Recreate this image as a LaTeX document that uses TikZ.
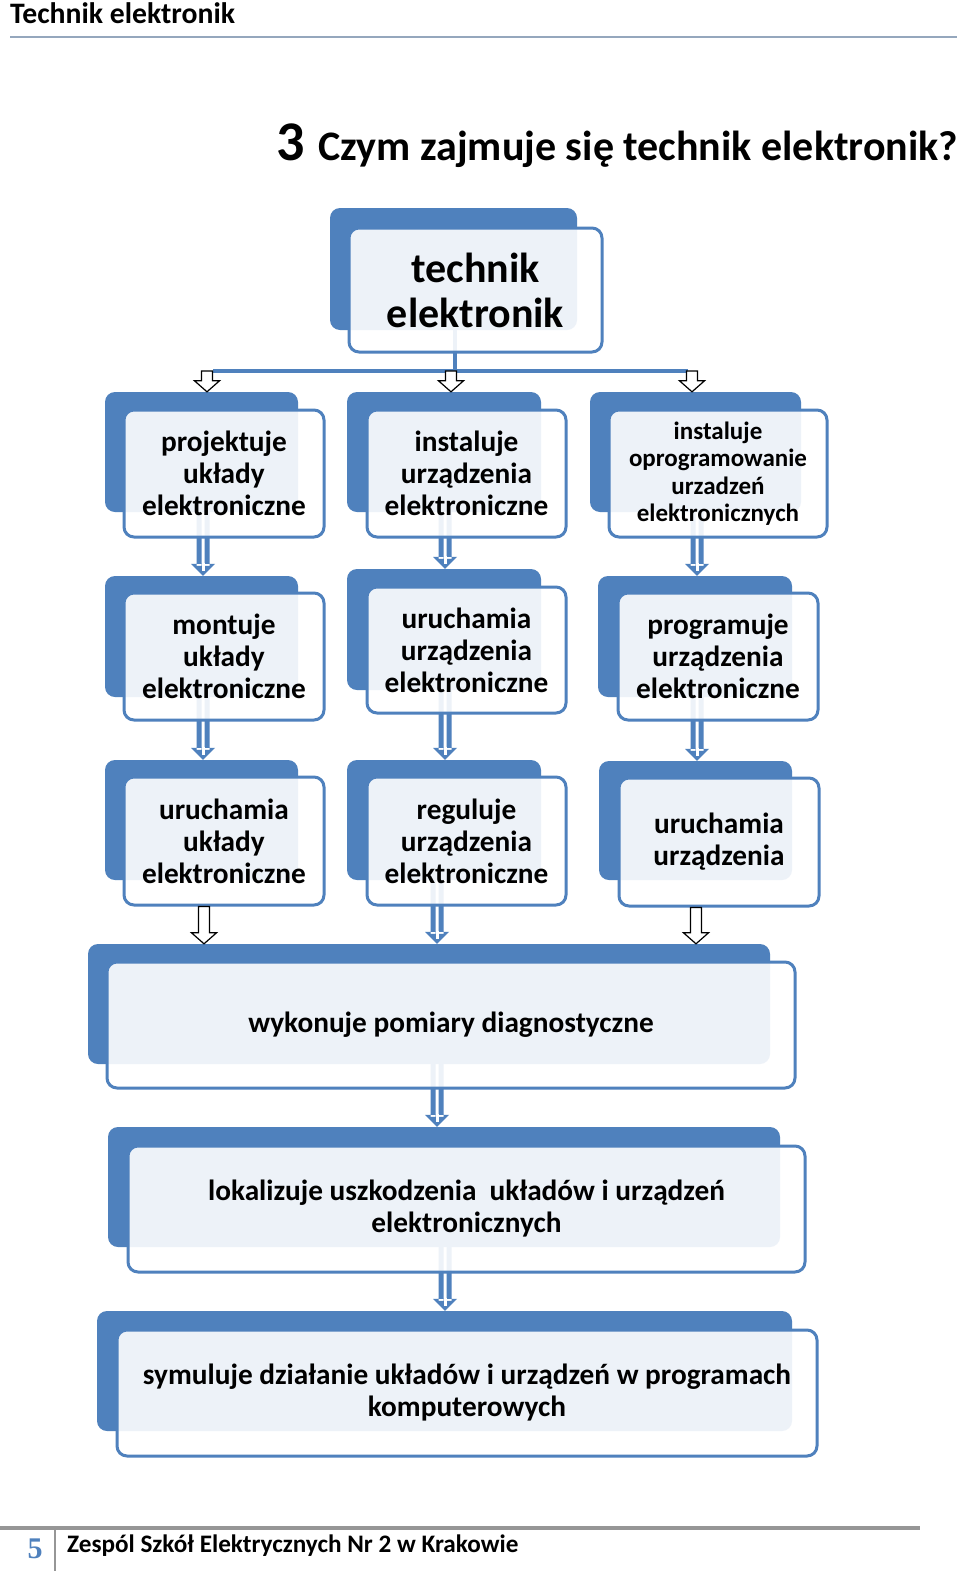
\documentclass[tikz,border=0pt]{standalone}
\usepackage{fontspec}
\setmainfont{Carlito}
\setsansfont{Carlito}
\newfontfamily\numfont{Liberation Serif}
\usetikzlibrary{calc}
\definecolor{ofblue}{RGB}{79,129,189}
\definecolor{hdrline}{RGB}{149,167,189}
\definecolor{ftgray}{RGB}{150,150,150}
\newcommand\harrow[2]{%
  \path[draw=black, fill=white, line width=1.2pt, line join=miter]
    let \p1=(#1), \p2=(#2) in
    (\x1-5.5pt,\y1) -- (\x1+5.5pt,\y1) -- (\x1+5.5pt,\y2+11pt) -- (\x1+12.5pt,\y2+11pt)
    -- (\x1,\y2) -- (\x1-12.5pt,\y2+11pt) -- (\x1-5.5pt,\y2+11pt) -- cycle;}
\newcommand\barrow[2]{%
  \path[fill=ofblue] let \p1=(#1), \p2=(#2) in
    (\x1-6.5pt,\y1) rectangle (\x1-1.5pt,\y2+10pt)
    (\x1+1.5pt,\y1) rectangle (\x1+6.5pt,\y2+10pt)
    (\x1-12pt,\y2+12pt) -- (\x1+12pt,\y2+12pt) -- (\x1,\y2) -- cycle;
  \path[draw=white, line width=3pt] let \p1=(#1), \p2=(#2) in
    (\x1,\y2+13pt) -- (\x1,\y2+5pt);}
\tikzset{
  backbox/.style={fill=ofblue, rounded corners=10pt, inner sep=0pt},
  frontbox/.style={draw=ofblue, line width=3pt, fill=white, fill opacity=0.9,
    text opacity=1, rounded corners=10pt, inner sep=0pt, align=center,
    font=\bfseries\fontsize{29.3}{32}\selectfont},
  smalltext/.style={font=\bfseries\fontsize{25}{27.5}\selectfont},
  bigtext/.style={font=\bfseries\fontsize{42}{45}\selectfont},
  connline/.style={draw=ofblue, line width=4pt},
}
\begin{document}
\begin{tikzpicture}[x=1pt,y=-1pt]
\useasboundingbox (0,0) rectangle (960,1571);
\fill[white] (0,0) rectangle (960,1571);
% header
\node[anchor=west, font=\bfseries\fontsize{29.7}{30}\selectfont, inner sep=0pt] (hdr) at (10,13) {Technik elektronik};
\draw[hdrline, line width=1.5pt] (10,37) -- (957,37);
% title
\node[anchor=base west, inner sep=0pt, font=\bfseries\fontsize{56}{56}\selectfont] (ttlnum) at (276,160) {3};
\node[anchor=base west, inner sep=0pt, font=\bfseries\fontsize{42}{44}\selectfont] (ttl) at (318,160) {Czym zajmuje się technik elektronik?};
% back boxes
\node[backbox, minimum width=247pt, minimum height=122pt] (tB) at (453.5,269) {};
\node[backbox, minimum width=193pt, minimum height=120pt] (aB) at (201.5,452) {};
\node[backbox, minimum width=194pt, minimum height=120pt] (bB) at (444,452) {};
\node[backbox, minimum width=211pt, minimum height=120pt] (cB) at (695.5,452) {};
\node[backbox, minimum width=193pt, minimum height=121pt] (dB) at (201.5,636.5) {};
\node[backbox, minimum width=194pt, minimum height=121pt] (eB) at (444,629.5) {};
\node[backbox, minimum width=194pt, minimum height=121pt] (fB) at (695,636.5) {};
\node[backbox, minimum width=193pt, minimum height=120pt] (gB) at (201.5,820) {};
\node[backbox, minimum width=194pt, minimum height=120pt] (hB) at (444,820) {};
\node[backbox, minimum width=193pt, minimum height=119pt] (iB) at (695.5,820.5) {};
\node[backbox, minimum width=682pt, minimum height=120pt] (w1B) at (429,1004) {};
\node[backbox, minimum width=672pt, minimum height=120pt] (w2B) at (444,1187) {};
\node[backbox, minimum width=695pt, minimum height=120pt] (w3B) at (444.5,1371) {};
% connectors behind front boxes
\coordinate (j) at (455,371);
\coordinate (jl) at (213,371);
\coordinate (jr) at (688,371);
\draw[connline] (tB.south -| j) -- (j);
\draw[connline] (jl) -- (jr);
\barrow{aB.south -| 203,0}{dB.north -| 203,0}
\barrow{bB.south -| 445,0}{eB.north -| 445,0}
\barrow{cB.south -| 697,0}{fB.north -| 697,0}
\barrow{dB.south -| 203,0}{gB.north -| 203,0}
\barrow{eB.south -| 445,0}{hB.north -| 445,0}
\barrow{fB.south -| 697,0}{iB.north -| 697,0}
\barrow{hB.south -| 437,0}{w1B.north -| 437,0}
\barrow{w1B.south -| 437,0}{w2B.north -| 437,0}
\barrow{w2B.south -| 445,0}{w3B.north -| 445,0}
% front boxes
\node[frontbox, bigtext, minimum width=253pt, minimum height=124pt] (tF) at (475.5,290) {technik\\elektronik};
\node[frontbox, minimum width=200pt, minimum height=127pt] (aF) at (224,473.5) {projektuje\\układy\\elektroniczne};
\node[frontbox, minimum width=199pt, minimum height=127pt] (bF) at (466.5,473.5) {instaluje\\urządzenia\\elektroniczne};
\node[frontbox, smalltext, minimum width=218pt, minimum height=127pt] (cF) at (718,473.5) {instaluje\\oprogramowanie\\urzadzeń\\elektronicznych};
\node[frontbox, minimum width=200pt, minimum height=127pt] (dF) at (224,656.5) {montuje\\układy\\elektroniczne};
\node[frontbox, minimum width=199pt, minimum height=126pt] (eF) at (466.5,650) {uruchamia\\urządzenia\\elektroniczne};
\node[frontbox, minimum width=200pt, minimum height=127pt] (fF) at (718,656.5) {programuje\\urządzenia\\elektroniczne};
\node[frontbox, minimum width=200pt, minimum height=128pt] (gF) at (224,841) {uruchamia\\układy\\elektroniczne};
\node[frontbox, minimum width=199pt, minimum height=128pt] (hF) at (466.5,841) {reguluje\\urządzenia\\elektroniczne};
\node[frontbox, minimum width=200pt, minimum height=128pt] (iF) at (719,842) {uruchamia\\urządzenia};
\node[frontbox, minimum width=688pt, minimum height=126pt] (w1F) at (451,1025) {wykonuje pomiary diagnostyczne};
\node[frontbox, minimum width=677pt, minimum height=126pt] (w2F) at (466.5,1209) {lokalizuje uszkodzenia \ układów i urządzeń\\elektronicznych};
\node[frontbox, minimum width=700pt, minimum height=126pt] (w3F) at (467,1393) {symuluje działanie układów i urządzeń w programach\\komputerowych};
% hollow arrows
\harrow{jl -| 207,0}{aB.north -| 207,0}
\harrow{j -| 451,0}{bB.north -| 451,0}
\harrow{jr -| 692,0}{cB.north -| 692,0}
\harrow{gF.south -| 204,0}{w1B.north -| 204,0}
\harrow{iF.south -| 696,0}{w1B.north -| 696,0}
% footer
\draw[ftgray, line width=4pt] (0,1528) -- (920,1528);
\draw[ftgray, line width=2pt] (55,1528) -- (55,1571);
\node[font=\numfont\bfseries\fontsize{30}{30}\selectfont, text=ofblue, inner sep=0pt] (pg) at (35,1549) {5};
\node[anchor=west, font=\bfseries\fontsize{25.2}{27}\selectfont, inner sep=0pt] (ftr) at (67,1546) {Zespól Szkół Elektrycznych Nr 2 w Krakowie};
\end{tikzpicture}
\end{document}
